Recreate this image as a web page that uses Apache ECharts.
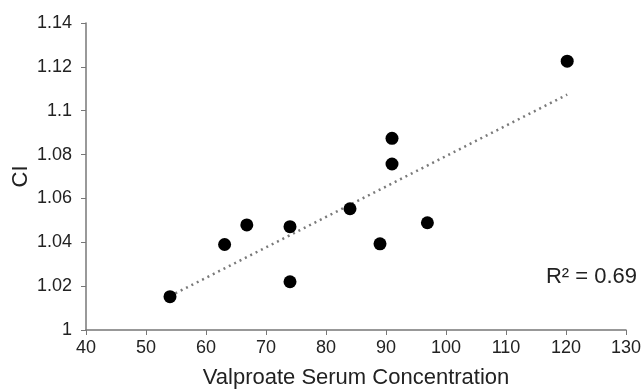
<!DOCTYPE html>
<html>
<head>
<meta charset="utf-8">
<script src="https://cdn.jsdelivr.net/npm/echarts@6/dist/echarts.min.js"></script>
<style>
  html, body { margin: 0; padding: 0; background: #fff; }
  #main { width: 641px; height: 391px; }
</style>
</head>
<body>
<div id="main"></div>
<script>
// valproate serum concentration vs CI
var serumConc = [54, 63.1, 66.8, 74, 74, 84, 89, 91, 91, 96.9, 120.2];
var ciValues = [1.0152, 1.039, 1.0479, 1.0471, 1.022, 1.0553, 1.0393, 1.0874, 1.0757, 1.0489, 1.1226];
var rSquaredLabel = 'R² = 0.69';

var points = serumConc.map(function (x, i) { return [x, ciValues[i]]; });

// least squares fit for the trend line
var n = serumConc.length;
var mx = serumConc.reduce(function (a, b) { return a + b; }, 0) / n;
var my = ciValues.reduce(function (a, b) { return a + b; }, 0) / n;
var sxy = 0, sxx = 0;
for (var i = 0; i < n; i++) {
    sxy += (serumConc[i] - mx) * (ciValues[i] - my);
    sxx += (serumConc[i] - mx) * (serumConc[i] - mx);
}
var slope = sxy / sxx;
var intercept = my - slope * mx;
var xMin = Math.min.apply(null, serumConc);
var xMax = Math.max.apply(null, serumConc);
var trend = [[xMin, intercept + slope * xMin], [xMax, intercept + slope * xMax]];

var myChart = echarts.init(document.getElementById('main'));
var labelFont = 'Liberation Sans, Arial, sans-serif';

var option = {
    animation: false,
    grid: { left: 86, right: 15, top: 23, bottom: 61, outerBoundsMode: 'none', containLabel: false },
    xAxis: {
        type: 'value',
        min: 40,
        max: 130,
        interval: 10,
        name: 'Valproate Serum Concentration',
        nameLocation: 'middle',
        nameGap: 37,
        nameTextStyle: { fontSize: 22, color: '#222', fontFamily: labelFont },
        axisLine: { lineStyle: { color: '#777', width: 1.5 } },
        axisTick: { show: true, length: 5, lineStyle: { color: '#777' } },
        axisLabel: { fontSize: 18, color: '#222', fontFamily: labelFont, margin: 9 },
        splitLine: { show: false }
    },
    yAxis: {
        type: 'value',
        min: 1,
        max: 1.14,
        interval: 0.02,
        name: 'CI',
        nameLocation: 'middle',
        nameGap: 54,
        nameMoveOverlap: false,
        nameRotate: 90,
        nameTextStyle: { fontSize: 22, color: '#222', fontFamily: labelFont },
        axisLine: { show: true, lineStyle: { color: '#777', width: 1.5 } },
        axisTick: { show: true, length: 5, lineStyle: { color: '#777' } },
        axisLabel: { fontSize: 18, color: '#222', fontFamily: labelFont, margin: 14 },
        splitLine: { show: false }
    },
    graphic: [{
        type: 'text',
        right: 4,
        top: 266,
        style: {
            text: rSquaredLabel,
            fontSize: 22,
            fill: '#222',
            fontFamily: labelFont
        }
    }],
    series: [{
        type: 'line',
        data: trend,
        symbol: 'none',
        lineStyle: { color: '#7a7a7a', width: 2.5, type: [2, 4] },
        z: 1
    }, {
        type: 'scatter',
        data: points,
        symbolSize: 13,
        itemStyle: { color: '#000', opacity: 1 },
        z: 2
    }]
};
myChart.setOption(option);
</script>
</body>
</html>
